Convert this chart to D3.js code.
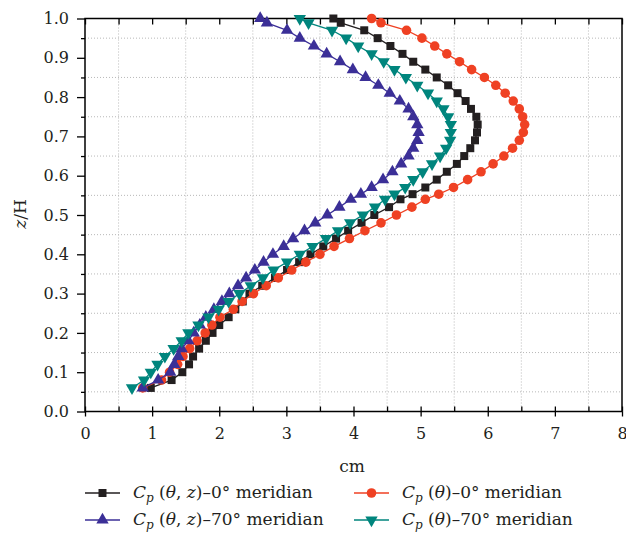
<!DOCTYPE html>
<html><head><meta charset="utf-8">
<script src="https://cdn.jsdelivr.net/npm/d3@7"></script>
<style>body{margin:0;background:#fff}svg{display:block}svg text{font-family:"DejaVu Serif","Liberation Serif",serif}</style>
</head><body><svg id="c" width="626" height="549"></svg>
<script>
const zValues = [1.0,0.989,0.97,0.95,0.93,0.91,0.89,0.87,0.85,0.83,0.81,0.79,0.77,0.75,0.73,0.71,0.69,0.67,0.65,0.63,0.61,0.59,0.57,0.553,0.54,0.52,0.50,0.48,0.46,0.44,0.42,0.40,0.38,0.36,0.34,0.32,0.30,0.28,0.26,0.24,0.22,0.20,0.18,0.16,0.14,0.12,0.10,0.08,0.06];
const cpThetaZ0 = [3.70,3.81,4.16,4.36,4.55,4.73,4.89,5.07,5.24,5.41,5.55,5.67,5.75,5.83,5.85,5.84,5.81,5.74,5.65,5.54,5.39,5.24,5.07,4.88,4.70,4.53,4.31,4.12,3.92,3.74,3.55,3.36,3.19,3.01,2.83,2.64,2.45,2.35,2.24,2.14,2.00,1.90,1.80,1.70,1.61,1.55,1.45,1.29,0.98];
const cpTheta0 = [4.27,4.41,4.79,5.02,5.21,5.39,5.58,5.76,5.95,6.12,6.26,6.38,6.47,6.52,6.55,6.53,6.47,6.37,6.24,6.08,5.90,5.70,5.49,5.27,5.07,4.87,4.64,4.41,4.17,3.94,3.71,3.50,3.29,3.08,2.88,2.70,2.51,2.34,2.21,2.01,1.89,1.79,1.67,1.56,1.46,1.38,1.26,1.14,0.86];
const cpThetaZ70 = [2.61,2.71,3.01,3.20,3.41,3.60,3.80,3.99,4.18,4.37,4.54,4.69,4.82,4.89,4.95,4.97,4.95,4.89,4.82,4.71,4.58,4.44,4.27,4.11,3.96,3.79,3.61,3.43,3.27,3.10,2.96,2.80,2.66,2.53,2.40,2.28,2.15,2.04,1.92,1.80,1.71,1.62,1.54,1.44,1.39,1.33,1.27,1.09,0.86];
const cpTheta70 = [3.20,3.33,3.68,3.89,4.07,4.27,4.45,4.61,4.78,4.95,5.11,5.24,5.34,5.41,5.45,5.45,5.44,5.38,5.29,5.17,5.03,4.89,4.77,4.61,4.47,4.32,4.14,3.95,3.77,3.59,3.39,3.20,3.01,2.81,2.65,2.47,2.30,2.14,1.99,1.84,1.69,1.54,1.44,1.32,1.19,1.08,0.98,0.88,0.70];
const xTicks = [0,1,2,3,4,5,6,7,8];
const xMinor = [0.5,1.5,2.5,3.5,4.5,5.5,6.5,7.5];
const yTicks = [0,0.1,0.2,0.3,0.4,0.5,0.6,0.7,0.8,0.9,1.0];
const yMinor = [0.05,0.15,0.25,0.35,0.45,0.55,0.65,0.75,0.85,0.95];
const seriesNames = ["0° meridian","70° meridian"];

const svg = d3.select("#c");
const FONT = '"DejaVu Serif","Liberation Serif",serif';
const TXT = "#231f20";
const L = 85, R = 622, T = 18.5, B = 411.5;
const x = d3.scaleLinear().domain([0,8]).range([L,R]);
const y = d3.scaleLinear().domain([0,1]).range([B,T]);

// grid (dotted, at half-steps)
const grid = svg.append("g").attr("stroke","#b8b8b8").attr("stroke-width",1).attr("stroke-dasharray","1,2");
grid.selectAll("line.v").data(xMinor).join("line").attr("x1",d=>x(d)).attr("x2",d=>x(d)).attr("y1",T).attr("y2",B);
grid.selectAll("line.h").data(yMinor).join("line").attr("y1",d=>y(d)).attr("y2",d=>y(d)).attr("x1",L).attr("x2",R);

function styleAxis(g){ g.attr("font-family",null).attr("font-size",null);
  g.select(".domain").remove(); g.selectAll("line").attr("stroke","#000").attr("stroke-width",1.3);
  g.selectAll("text").style("font-family",FONT).style("font-size","16px").attr("fill",TXT); }

// left axis
svg.append("g").attr("transform",`translate(${L},0)`)
  .call(d3.axisLeft(y).tickValues(yTicks).tickFormat(d3.format(".1f")).tickSize(8).tickPadding(8)).call(styleAxis);
svg.append("g").attr("transform",`translate(${L},0)`)
  .call(d3.axisLeft(y).tickValues(yMinor).tickFormat("").tickSize(4)).call(styleAxis);
// bottom axis
svg.append("g").attr("transform",`translate(0,${B})`)
  .call(d3.axisBottom(x).tickValues(xTicks).tickFormat(d3.format("d")).tickSize(5).tickPadding(11)).call(styleAxis);
svg.append("g").attr("transform",`translate(0,${B})`)
  .call(d3.axisBottom(x).tickValues(xTicks.concat(xMinor)).tickFormat("").tickSize(-5)).call(styleAxis);
// top axis inward ticks
svg.append("g").attr("transform",`translate(0,${T})`)
  .call(d3.axisTop(x).tickValues(xTicks.concat(xMinor)).tickFormat("").tickSize(-6)).call(styleAxis);

// frame
svg.append("rect").attr("x",L).attr("y",T).attr("width",R-L).attr("height",B-T)
  .attr("fill","none").attr("stroke","#000").attr("stroke-width",1.5);

// axis titles
svg.append("text").attr("x",352).attr("y",472).attr("text-anchor","middle")
  .style("font-family",FONT).style("font-size","17px").attr("fill",TXT).text("cm");
const yt = svg.append("text").attr("transform","translate(26,214) rotate(-90)").attr("text-anchor","middle")
  .style("font-family",FONT).style("font-size","17px").attr("fill",TXT);
yt.append("tspan").attr("font-style","italic").text("z");
yt.append("tspan").text("/H");

// series
const sym = {
  square: d3.symbol().type(d3.symbolSquare).size(64)(),
  circle: d3.symbol().type(d3.symbolCircle).size(72)(),
  tri: d3.symbol().type(d3.symbolTriangle).size(66)(),
};
const series = [
  {vals:cpThetaZ0, color:"#231f20", shape:"square", rot:0},
  {vals:cpTheta0, color:"#ef4123", shape:"circle", rot:0},
  {vals:cpThetaZ70, color:"#3b2f97", shape:"tri", rot:0},
  {vals:cpTheta70, color:"#00857d", shape:"tri", rot:180},
];
const line = d3.line().x(d=>x(d[0])).y(d=>y(d[1]));
series.forEach(s=>{
  const pts = s.vals.map((v,i)=>[v,zValues[i]]);
  const g = svg.append("g");
  g.append("path").attr("d",line(pts)).attr("fill","none").attr("stroke",s.color).attr("stroke-width",1.3);
  g.selectAll("path.m").data(pts).join("path").attr("class","m").attr("d",sym[s.shape])
    .attr("transform",d=>`translate(${x(d[0])},${y(d[1])}) rotate(${s.rot})`).attr("fill",s.color);
});

// legend
const legend = [
  {s:series[0], lx:85, ly:493, arg:"θ, z", mer:seriesNames[0]},
  {s:series[2], lx:85, ly:520, arg:"θ, z", mer:seriesNames[1]},
  {s:series[1], lx:354, ly:493, arg:"θ", mer:seriesNames[0]},
  {s:series[3], lx:354, ly:520, arg:"θ", mer:seriesNames[1]},
];
legend.forEach(l=>{
  const g = svg.append("g");
  g.append("line").attr("x1",l.lx).attr("x2",l.lx+35).attr("y1",l.ly).attr("y2",l.ly).attr("stroke",l.s.color).attr("stroke-width",1.3);
  g.append("path").attr("d",sym[l.s.shape]).attr("transform",`translate(${l.lx+17.5},${l.ly}) rotate(${l.s.rot})`).attr("fill",l.s.color);
  const t = g.append("text").attr("x",l.lx+48).attr("y",l.ly+5).style("font-family",FONT).style("font-size","17px").attr("fill",TXT);
  t.append("tspan").attr("font-style","italic").text("C");
  t.append("tspan").attr("font-style","italic").style("font-size","12px").attr("dy",4).text("p");
  t.append("tspan").attr("dy",-4).text(" (");
  const parts = l.arg.split(", ");
  t.append("tspan").attr("font-style","italic").text(parts[0]);
  if(parts[1]){ t.append("tspan").text(", "); t.append("tspan").attr("font-style","italic").text(parts[1]); }
  t.append("tspan").text(")–" + l.mer);
});
</script></body></html>
